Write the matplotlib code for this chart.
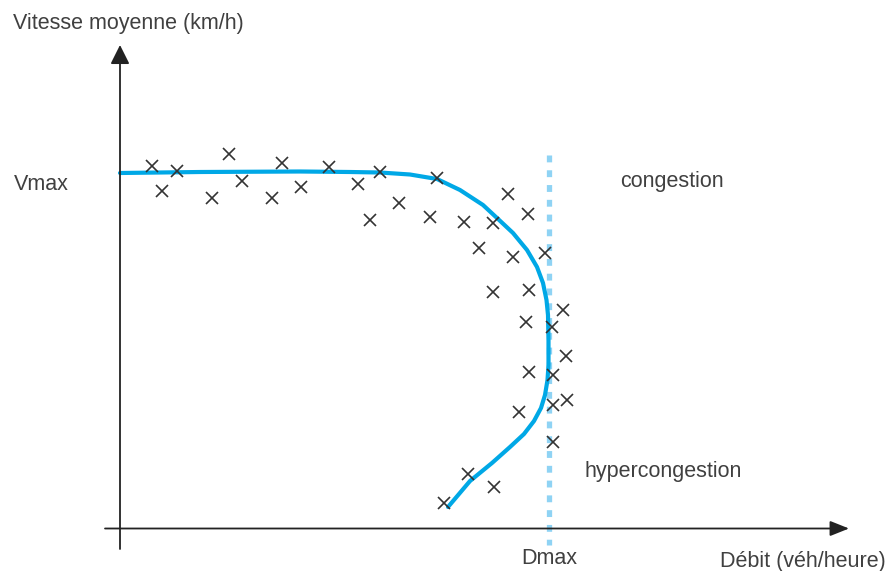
import matplotlib.pyplot as plt

# repères (coordonnées en pixels, y vers le bas)
mesures_x = [152, 177, 162, 229, 212, 242, 272, 282, 301, 329, 358, 380, 370, 399,
             437, 430, 464, 493, 508, 528, 479, 513, 545, 493, 529, 563, 526, 552,
             566, 529, 553, 567, 519, 553, 553, 468, 494, 444]
mesures_y = [166, 171, 191, 154, 198, 181, 198, 163, 187, 167, 184, 172, 220, 203,
             178, 217, 222, 223, 194, 214, 248, 257, 253, 292, 290, 310, 322, 327,
             356, 372, 375, 400, 412, 405, 442, 474, 487, 503]

# courbe vitesse-débit
courbe_x = [120, 200, 300, 350, 380, 410, 437, 460, 483, 497, 513, 527, 537, 543,
            546.5, 548, 548.5, 548.5, 547.5, 545, 541, 534, 524, 510, 492, 470, 448]
courbe_y = [173, 172, 171.5, 172, 172.5, 174.5, 179, 190, 205, 218, 233, 250, 267, 283,
            300, 315, 340, 365, 380, 395, 408, 421, 434, 447, 463, 481, 507]

dmax_x = 549
dmax_y = [155, 545]

origine = (120, 528.5)
texte_col = '#404040'
police = ['Liberation Sans', 'DejaVu Sans']

fig = plt.figure(figsize=(8.85, 5.71), dpi=100)
ax = fig.add_axes([0, 0, 1, 1])
ax.set_xlim(0, 885)
ax.set_ylim(571, 0)
ax.axis('off')

# axes avec flèches
ax.annotate('', xy=(origine[0], 45), xytext=(origine[0], 549),
            arrowprops=dict(arrowstyle='-|>,head_length=0.4,head_width=0.2',
                            mutation_scale=29, lw=1.3, color='#222222',
                            shrinkA=0, shrinkB=0))
ax.annotate('', xy=(849, origine[1]), xytext=(105, origine[1]),
            arrowprops=dict(arrowstyle='-|>,head_length=0.4,head_width=0.16',
                            mutation_scale=29, lw=1.3, color='#222222',
                            shrinkA=0, shrinkB=0))

# Dmax en pointillés
ax.plot([dmax_x, dmax_x], dmax_y, color='#8fd3f4', lw=3.8,
        linestyle=(0, (1.3, 1.5)), solid_capstyle='butt', dash_capstyle='butt')

ax.plot(courbe_x, courbe_y, color='#00a8e6', lw=3.0,
        solid_capstyle='round', solid_joinstyle='round')

ax.plot(mesures_x, mesures_y, 'x', color='#333333', ms=8, mew=1.2)

kw = dict(family=police, fontsize=15.5, color=texte_col, va='baseline', ha='left')
ax.text(13, 28.5, 'Vitesse moyenne (km/h)', **kw)
ax.text(14, 189.5, 'Vmax', **kw)
ax.text(620, 187, 'congestion', **kw)
ax.text(584, 477.5, 'hypercongestion', **kw)
ax.text(521, 564.5, 'Dmax', **kw)
ax.text(720, 566.5, 'Débit (véh/heure)', **kw)

fig.savefig('out.png', dpi=100)
